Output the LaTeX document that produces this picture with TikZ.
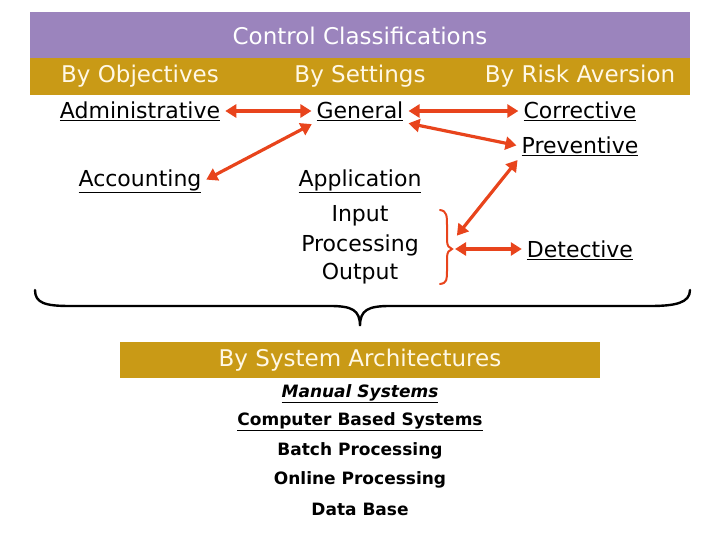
\documentclass[tikz,border=0pt]{standalone}
\usepackage{fontspec}
\setmainfont{DejaVu Sans}
\usepackage{xcolor}
\usetikzlibrary{positioning, arrows.meta}
\definecolor{lilac}{HTML}{9B84BD}
\definecolor{gold}{HTML}{C99A16}
\definecolor{cream}{HTML}{FFF8E6}
\definecolor{flame}{HTML}{E8441C}

\tikzset{
  head/.style={font=\fontsize{23}{26}\selectfont, text=white},
  band/.style={font=\fontsize{23}{26}\selectfont, text=cream},
  item/.style={font=\fontsize{22}{25}\selectfont, inner sep=2pt},
  sys/.style={font=\bfseries\fontsize{17}{20}\selectfont, inner sep=1pt},
  link/.style={{Triangle[length=11pt,width=13pt]}-{Triangle[length=11pt,width=13pt]}, flame, line width=3.2pt, shorten <=3pt, shorten >=3pt}
}
\newcommand{\ul}[1]{\underline{#1}}

\begin{document}
\begin{tikzpicture}[x=1pt, y=-1pt]
  \useasboundingbox (0,0) rectangle (720,540);
  % bands
  \fill[lilac] (30,12) rectangle (690,58);
  \fill[gold] (30,58) rectangle (690,95);
  \fill[gold] (120,342) rectangle (600,378);

  \node[head] (ctl) at (360,36) {Control Classifications};
  \node[band] (obj) at (140,76) {By Objectives};
  \node[band] (set) at (360,76) {By Settings};
  \node[band] (risk) at (580,76) {By Risk Aversion};

  \node[item] (adm) at (140,111) {\ul{Administrative}};
  \node[item] (gen) at (360,111) {\ul{General}};
  \node[item] (cor) at (580,111) {\ul{Corrective}};
  \node[item] (prev) at (580,146) {\ul{Preventive}};
  \node[item] (acc) at (140,181) {\ul{Accounting}};
  \node[item] (app) at (360,181) {\ul{Application}};
  \node[item] (inp) at (360,216) {Input};
  \node[item] (proc) at (360,245) {Processing};
  \node[item] (outp) at (360,274) {Output};
  \node[item] (det) at (580,250) {\ul{Detective}};

  % small brace
  \coordinate (bt) at (440,210);
  \coordinate (bm) at (452,249);
  \coordinate (bb) at (440,284);
  \coordinate (bu) at (455,238);
  \draw[flame, line width=2pt, line cap=round]
    (bt) .. controls (447,211) and (447,216) .. (447,226)
    -- (447,240) .. controls (447,246) and (449,248) .. (bm)
    .. controls (449,250) and (447,252) .. (447,258)
    -- (447,270) .. controls (447,280) and (447,283) .. (bb);

  \draw[link] (adm) -- (gen);
  \draw[link] (gen) -- (cor);
  \draw[link] (gen.south east) -- (prev.west);
  \draw[link] (acc.east) -- (gen.south west);
  \draw[link] (prev.south west) -- (bu);
  \draw[link] (bm) -- (det.west |- bm);

  % big brace
  \coordinate (lb) at (35,290);
  \coordinate (rb) at (690,290);
  \coordinate (tip) at (360,326);
  \draw[black, line width=2.4pt, line cap=round]
    (lb) .. controls (35,303) and (45,306) .. (70,306)
    -- (330,306) .. controls (352,306) and (360,310) .. (tip)
    .. controls (360,310) and (368,306) .. (390,306)
    -- (650,306) .. controls (675,306) and (690,303) .. (rb);

  \node[band] (arch) at (360,360) {By System Architectures};
  \node[sys] (man) at (360,394) {\ul{\itshape Manual Systems}};
  \node[sys] (comp) at (360,422) {\ul{Computer Based Systems}};
  \node[sys] (bat) at (360,451) {Batch Processing};
  \node[sys] (onl) at (360,480) {Online Processing};
  \node[sys] (db) at (360,509) {Data Base};
\end{tikzpicture}
\end{document}
